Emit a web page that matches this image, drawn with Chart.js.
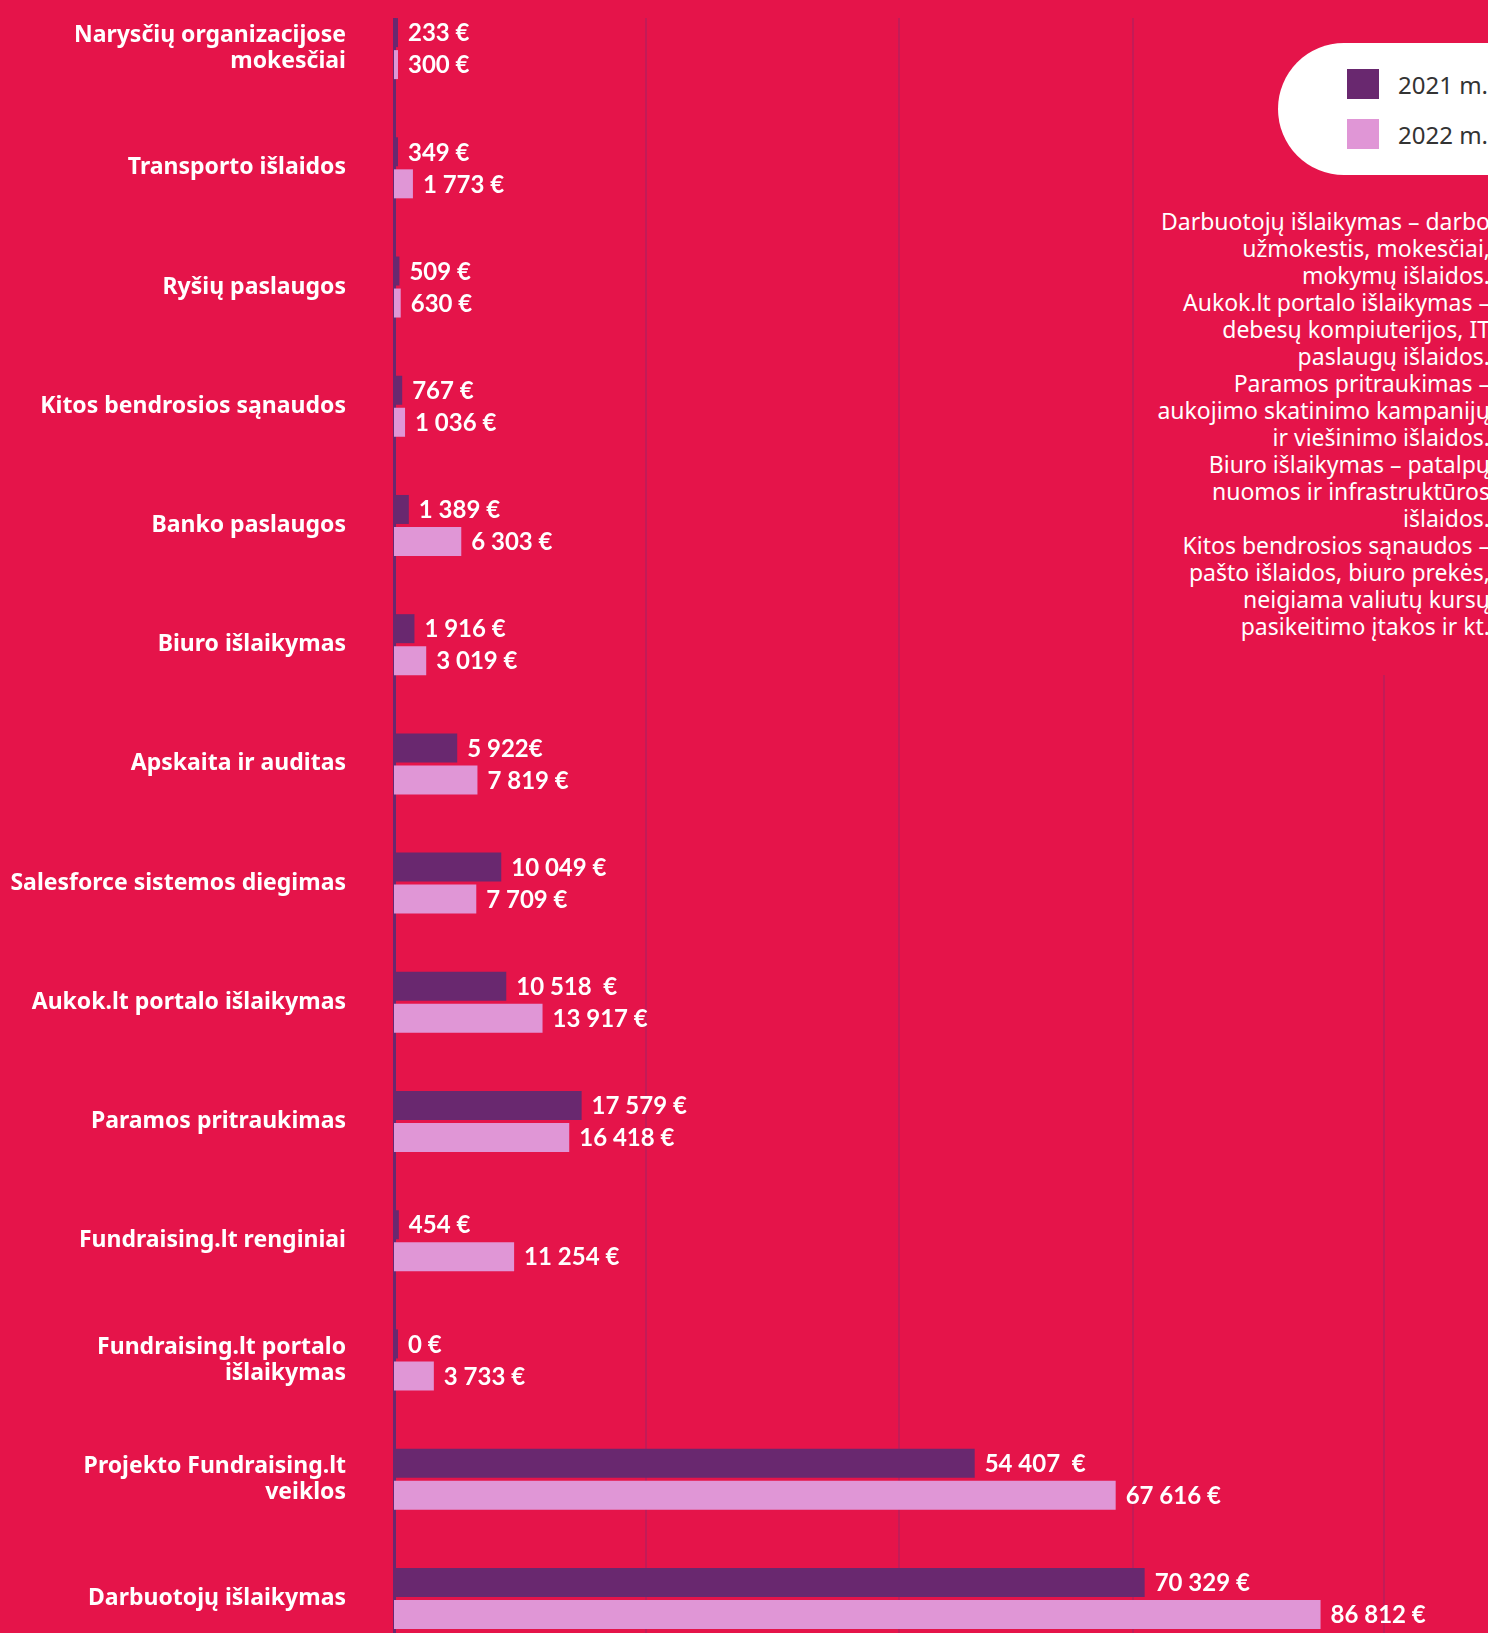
<!DOCTYPE html>
<html lang="lt">
<head>
<meta charset="utf-8">
<title>Išlaidos 2021–2022 m.</title>
<script src="https://cdn.jsdelivr.net/npm/chart.js@4.4.1/dist/chart.umd.min.js"></script>
<style>
  html, body { margin: 0; padding: 0; }
  body {
    width: 1488px; height: 1633px; overflow: hidden; position: relative;
    background: #e5144a; font-family: 'Noto Sans', sans-serif;
  }
  #chart-wrap { position: absolute; left: 0; top: -11px; width: 1488px; height: 1669px; }
  #side { position: absolute; left: 1148px; top: 0; width: 340px; height: 675px; background: #e5144a; }
  #legend {
    position: absolute; left: 130px; top: 43px; width: 400px; height: 132px;
    border-radius: 66px; background: #fff;
  }
  .item { position: absolute; left: 69px; height: 30px; display: flex; align-items: center; font-size: 24px; color: #333; white-space: nowrap; }
  .item i { display: inline-block; width: 32px; height: 30px; margin-right: 19px; }
  #notes {
    position: absolute; right: -2px; top: 208px; text-align: right; color: #fff;
    font-size: 23px; line-height: 27px; white-space: nowrap;
  }
</style>
</head>
<body>
<div id="chart-wrap"><canvas id="chart"></canvas></div>
<div id="side">
  <div id="legend"></div>
  <div id="notes"></div>
</div>
<script>
const categories = [
  ['Narysčių organizacijose', 'mokesčiai'],
  'Transporto išlaidos',
  'Ryšių paslaugos',
  'Kitos bendrosios sąnaudos',
  'Banko paslaugos',
  'Biuro išlaikymas',
  'Apskaita ir auditas',
  'Salesforce sistemos diegimas',
  'Aukok.lt portalo išlaikymas',
  'Paramos pritraukimas',
  'Fundraising.lt renginiai',
  ['Fundraising.lt portalo', 'išlaikymas'],
  ['Projekto Fundraising.lt', 'veiklos'],
  'Darbuotojų išlaikymas'
];
const seriesNames = ['2021 m.', '2022 m.'];
const values2021 = [233, 349, 509, 767, 1389, 1916, 5922, 10049, 10518, 17579, 454, 0, 54407, 70329];
const values2022 = [300, 1773, 630, 1036, 6303, 3019, 7819, 7709, 13917, 16418, 11254, 3733, 67616, 86812];
// value labels as printed on the chart
const labels2021 = ['233 €', '349 €', '509 €', '767 €', '1 389 €', '1 916 €', '5 922€', '10 049 €', '10 518  €', '17 579 €', '454 €', '0 €', '54 407  €', '70 329 €'];
const labels2022 = ['300 €', '1 773 €', '630 €', '1 036 €', '6 303 €', '3 019 €', '7 819 €', '7 709 €', '13 917 €', '16 418 €', '11 254 €', '3 733 €', '67 616 €', '86 812 €'];
// unlabeled vertical grid lines
const gridTicks = [23600, 47300, 69200, 92800];
const notes = [
  'Darbuotojų išlaikymas – darbo', 'užmokestis, mokesčiai,', 'mokymų išlaidos.',
  'Aukok.lt portalo išlaikymas –', 'debesų kompiuterijos, IT', 'paslaugų išlaidos.',
  'Paramos pritraukimas –', 'aukojimo skatinimo kampanijų', 'ir viešinimo išlaidos.',
  'Biuro išlaikymas – patalpų', 'nuomos ir infrastruktūros', 'išlaidos.',
  'Kitos bendrosios sąnaudos –', 'pašto išlaidos, biuro prekės,', 'neigiama valiutų kursų',
  'pasikeitimo įtakos ir kt.'
];

const colors = ['#69286f', '#e096d6'];
const bgColor = '#e5144a';
const gridColor = '#c31b57';

// labels next to each bar end
const valueLabels = {
  id: 'valueLabels',
  afterDatasetsDraw(chart) {
    const ctx = chart.ctx;
    ctx.save();
    ctx.font = 'bold 24px Lato';
    ctx.fillStyle = '#fff';
    ctx.textBaseline = 'middle';
    chart.data.datasets.forEach((ds, i) => {
      chart.getDatasetMeta(i).data.forEach((bar, j) => {
        ctx.fillText(ds.valueLabels[j], bar.x + 10, bar.y + 1);
      });
    });
    ctx.restore();
  }
};

// grid lines and axis start a little below the top edge
const topCut = {
  id: 'topCut',
  afterDraw(chart) {
    const ctx = chart.ctx;
    ctx.save();
    ctx.fillStyle = bgColor;
    ctx.fillRect(chart.chartArea.left - 4, 0, chart.width, 29);
    ctx.restore();
  }
};

new Chart(document.getElementById('chart'), {
  type: 'bar',
  data: {
    labels: categories,
    datasets: [
      { label: seriesNames[0], data: values2021, valueLabels: labels2021, backgroundColor: colors[0] },
      { label: seriesNames[1], data: values2022, valueLabels: labels2022, backgroundColor: colors[1] }
    ]
  },
  options: {
    indexAxis: 'y',
    responsive: true,
    maintainAspectRatio: false,
    animation: false,
    layout: { padding: 0 },
    datasets: {
      bar: { barPercentage: 0.906, categoryPercentage: 0.537, minBarLength: 4 }
    },
    plugins: {
      legend: { display: false },
      tooltip: { enabled: false }
    },
    scales: {
      x: {
        min: 0,
        max: 102500,
        afterBuildTicks(scale) {
          scale.ticks = gridTicks.map(value => ({ value }));
        },
        ticks: { display: false },
        grid: { drawTicks: false, lineWidth: 2, color: gridColor },
        border: { display: false }
      },
      y: {
        z: 1,
        afterFit(scale) {
          scale.width = 394;
          scale.paddingTop = 0;
          scale.paddingBottom = 0;
        },
        grid: { display: false, drawTicks: false },
        border: { color: colors[0], width: 3 },
        ticks: {
          color: '#fff',
          padding: 48,
          autoSkip: false,
          font: { family: 'Noto Sans', size: 23, weight: 'bold', lineHeight: 1.13 }
        }
      }
    }
  },
  plugins: [valueLabels, topCut]
});

// legend pill and notes
const legend = document.getElementById('legend');
seriesNames.forEach((name, i) => {
  const item = document.createElement('div');
  item.className = 'item';
  item.style.top = (26 + i * 50) + 'px';
  item.innerHTML = `<i style="background:${colors[i]}"></i>${name}`;
  legend.appendChild(item);
});
document.getElementById('notes').innerHTML = notes.join('<br>');
</script>
</body>
</html>
